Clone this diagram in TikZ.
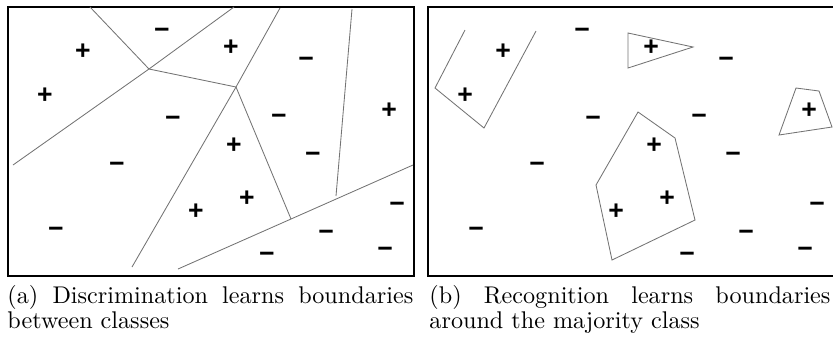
\documentclass[tikz,border=0pt]{standalone}
\usepackage{amsmath,amssymb}
\usepackage{fontspec}
\usepackage{xcolor}
\usepackage{tikz}
\newfontfamily\markfont{Liberation Sans}

\begin{document}
\begin{tikzpicture}[x=0.414pt, y=-0.414pt,
      panel/.style={draw=black, line width=0.8pt},
      bound/.style={draw=black!55, line width=0.35pt},
      posmark/.style={inner sep=0pt, font=\markfont\bfseries\fontsize{11}{12}\selectfont},
      negmark/.style={posmark},
      capline/.style={anchor=base west, inner sep=0pt, font=\normalsize}]
      \useasboundingbox (0,0) rectangle (833,337);
      \clip (0,0) rectangle (833,337);
      \draw[panel] (8,7) rectangle (414,276);
      \draw[panel] (428,7) rectangle (840,276);
      \foreach \dx/\pn in {0/a, 420/b} {
        \foreach \x/\y [count=\n] in {83/52, 231/48, 45/96, 389/111, 234/146, 247/199, 196/212}
          \node[posmark] (pos\pn\n) at (\x+\dx,\y) {+};
        \foreach \x/\y [count=\n] in {162/33, 306/62, 173/121, 279/119, 313/157, 117/167, 56/232, 397/207, 326/235, 385/252, 267/257}
          \node[negmark] (neg\pn\n) at (\x+\dx,\y) {−};
      }
      \coordinate (j1) at (149,69);
      \coordinate (j2) at (236,87);
      \coordinate (j3) at (291,219);
      \coordinate (j4) at (336,196);
      \draw[bound] (90,7) -- (j1);
      \draw[bound] (234,7) -- (j1) -- (13,165);
      \draw[bound] (j1) -- (j2);
      \draw[bound] (280,8) -- (j2) -- (132,267);
      \draw[bound] (j2) -- (j3);
      \draw[bound] (352,9) -- (j4);
      \draw[bound] (178,269) -- (j3) -- (413,165);
      \draw[bound] (465,30) -- (435,88) -- (484,128) -- (536,31);
      \draw[bound] (628,33) -- (628,68) -- (693,47) -- cycle;
      \draw[bound] (796,88) -- (819,91) -- (832,127) -- (779,135) -- cycle;
      \draw[bound] (638,112) -- (675,138) -- (695,220) -- (612,260) -- (596,185) -- cycle;
      \node[capline] (capa1) at (7,303) {\makebox[168pt][s]{(a) Discrimination learns boundaries}};
      \node[capline] (capa2) at (7,328) {between classes};
      \node[capline] (capb1) at (429,303) {\makebox[166pt][s]{(b) Recognition learns boundaries}};
      \node[capline] (capb2) at (429,328) {around the majority class};
    \end{tikzpicture}
\end{document}
